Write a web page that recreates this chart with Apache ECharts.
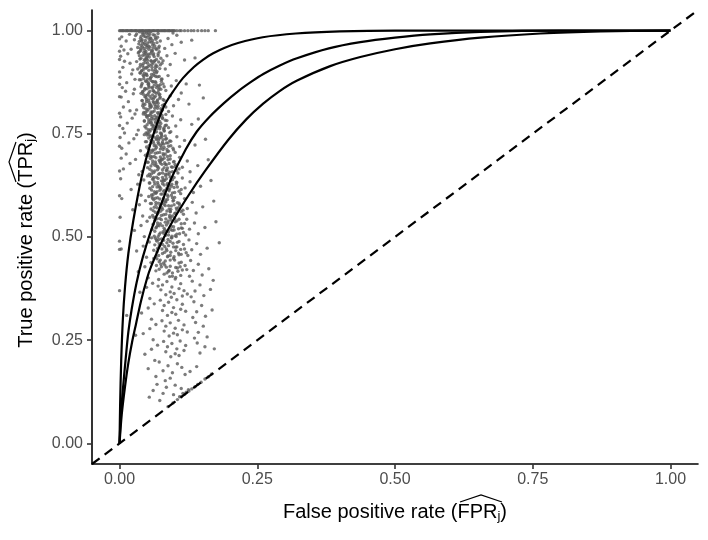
<!DOCTYPE html>
<html>
<head>
<meta charset="utf-8">
<script src="https://cdn.jsdelivr.net/npm/echarts@6/dist/echarts.min.js"></script>
<style>
  html, body { margin: 0; padding: 0; background: #fff; }
  #chart { width: 708px; height: 540px; }
</style>
</head>
<body>
<div id="chart"></div>
<script>
// tick positions shared by both axes
const ticks = [0, 0.25, 0.5, 0.75, 1]

// fitted ROC curves (FPR, TPR)
const rocA = [[0, 0], [0.001, 0.09], [0.003, 0.2], [0.006, 0.3], [0.01, 0.38], [0.016, 0.46], [0.025, 0.54],
  [0.04, 0.645], [0.057, 0.73], [0.08, 0.815], [0.1, 0.858], [0.115, 0.885], [0.135, 0.912], [0.152, 0.93],
  [0.17, 0.945], [0.19, 0.958], [0.215, 0.97], [0.26, 0.984], [0.32, 0.993], [0.4, 0.998], [0.5, 1], [1, 1]]
const rocB = [[0, 0], [0.002, 0.06], [0.0045, 0.106], [0.008, 0.16], [0.011, 0.203], [0.016, 0.27], [0.022, 0.325],
  [0.031, 0.39], [0.042, 0.45], [0.057, 0.515], [0.074, 0.574], [0.094, 0.642], [0.12, 0.712], [0.14, 0.755],
  [0.164, 0.792], [0.19, 0.825], [0.215, 0.853], [0.24, 0.877], [0.261, 0.895], [0.29, 0.915], [0.322, 0.933],
  [0.38, 0.957], [0.437, 0.972], [0.5, 0.983], [0.564, 0.991], [0.655, 0.997], [0.8, 1], [1, 1]]
const rocC = [[0, 0], [0.004, 0.07], [0.01, 0.138], [0.016, 0.195], [0.0227, 0.245], [0.03, 0.29], [0.039, 0.345],
  [0.05, 0.4], [0.0572, 0.428], [0.0754, 0.485], [0.0971, 0.54], [0.1262, 0.603], [0.1553, 0.66], [0.1971, 0.735],
  [0.23, 0.785], [0.2607, 0.823], [0.29, 0.853], [0.3224, 0.879], [0.3824, 0.914], [0.437, 0.936], [0.5, 0.955],
  [0.564, 0.969], [0.655, 0.983], [0.764, 0.993], [0.873, 0.998], [1, 1]]
const chance = [[-0.05, -0.05], [1.05, 1.05]]

// per-study points: row at TPR = 1
const dotsTop = [[0, 1], [.002, 1], [.004, 1], [.006, 1], [.007, 1], [.01, 1], [.012, 1], [.014, 1], [.015, 1],
  [.018, 1], [.02, 1], [.022, 1], [.023, 1], [.026, 1], [.028, 1], [.03, 1], [.031, 1], [.034, 1], [.036, 1],
  [.038, 1], [.04, 1], [.042, 1], [.043, 1], [.046, 1], [.048, 1], [.05, 1], [.052, 1], [.054, 1], [.055, 1],
  [.058, 1], [.06, 1], [.062, 1], [.063, 1], [.066, 1], [.068, 1], [.07, 1], [.071, 1], [.074, 1], [.076, 1],
  [.078, 1], [.08, 1], [.082, 1], [.083, 1], [.086, 1], [.088, 1], [.09, 1], [.091, 1], [.094, 1], [.096, 1],
  [.098, 1], [.1, 1], [.104, 1], [.109, 1], [.112, 1], [.118, 1], [.124, 1], [.13, 1], [.135, 1], [.142, 1],
  [.149, 1], [.155, 1], [.161, 1], [.174, 1]]

// points at FPR = 0
const dotsZero = [[0, .98], [0, .95], [0, .93], [0, .9], [0, .87], [0, .84], [0, .8], [0, .77], [0, .72],
  [0, .66], [0, .6], [0, .49], [0, .47], [0, .37], [.013, .31]]

// main cloud
const dotsCloud = [
  [.031,.992],[.044,.987],[.052,.995],[.038,.981],[.061,.990],[.047,.976],[.035,.968],[.058,.972],[.069,.984],[.042,.961],
  [.053,.955],[.027,.978],[.064,.963],[.049,.993],[.039,.953],[.071,.958],[.056,.982],[.033,.959],[.045,.970],[.060,.951],
  [.074,.975],[.029,.988],[.050,.964],[.041,.994],[.066,.979],[.036,.974],[.055,.960],[.047,.985],[.062,.969],[.038,.957],
  [.004,.985],[.003,.962],[.012,.975],[.018,.991],[.088,.981],[.095,.966],[.082,.957],[.104,.989],[.112,.972],[.021,.955],
  [.097,.994],[.131,.977],[.008,.953],
  [.034,.946],[.046,.941],[.058,.948],[.039,.933],[.051,.928],[.063,.937],[.043,.920],[.070,.944],[.055,.916],[.031,.925],
  [.048,.909],[.061,.922],[.037,.912],[.067,.930],[.053,.904],[.044,.947],[.074,.917],[.040,.903],[.059,.911],[.049,.935],
  [.065,.906],[.036,.939],[.057,.927],[.072,.949],[.042,.915],[.052,.943],[.063,.901],[.047,.923],[.033,.907],[.068,.913],
  [.002,.938],[.006,.911],[.015,.944],[.019,.921],[.024,.905],[.086,.939],[.092,.918],[.101,.945],[.083,.907],[.118,.929],
  [.009,.926],[.137,.934],[.079,.927],
  [.038,.897],[.050,.891],[.062,.895],[.044,.884],[.057,.879],[.069,.888],[.041,.872],[.053,.866],[.066,.874],[.047,.859],
  [.060,.863],[.074,.869],[.036,.881],[.055,.853],[.071,.857],[.043,.892],[.064,.851],[.049,.877],[.058,.888],[.039,.864],
  [.076,.882],[.052,.870],[.045,.856],[.067,.898],[.061,.876],[.048,.893],[.072,.861],[.056,.884],[.042,.852],[.063,.868],
  [.001,.887],[.005,.862],[.013,.874],[.022,.895],[.027,.858],[.088,.891],[.094,.866],[.103,.879],[.084,.855],[.121,.871],
  [.011,.853],[.028,.882],[.145,.868],
  [.043,.846],[.055,.841],[.067,.848],[.049,.833],[.061,.828],[.073,.836],[.046,.821],[.058,.816],[.070,.824],[.052,.809],
  [.064,.812],[.078,.819],[.041,.830],[.060,.803],[.076,.806],[.048,.843],[.069,.801],[.054,.826],[.063,.838],[.044,.813],
  [.081,.831],[.057,.820],[.050,.805],[.072,.844],[.066,.817],[.053,.849],[.075,.811],[.061,.834],[.047,.802],[.068,.829],
  [.003,.839],[.007,.815],[.016,.828],[.025,.847],[.031,.808],[.092,.842],[.098,.818],[.107,.833],[.089,.804],[.126,.822],
  [.019,.806],[.152,.837],[.112,.849],
  [.047,.797],[.059,.792],[.071,.798],[.053,.784],[.065,.779],[.078,.787],[.050,.772],[.062,.767],[.075,.775],[.056,.760],
  [.068,.763],[.083,.770],[.045,.781],[.064,.754],[.081,.757],[.052,.794],[.074,.752],[.058,.777],[.067,.789],[.048,.764],
  [.086,.782],[.061,.771],[.055,.756],[.077,.795],[.070,.768],[.057,.799],[.080,.762],[.066,.785],[.051,.753],[.073,.780],
  [.002,.791],[.006,.763],[.014,.776],[.023,.788],[.034,.759],[.096,.793],[.102,.769],[.111,.784],[.093,.755],[.131,.773],
  [.009,.752],[.143,.786],[.028,.798],
  [.050,.747],[.063,.742],[.076,.748],[.057,.734],[.070,.729],[.084,.737],[.054,.722],[.067,.717],[.080,.725],[.061,.710],
  [.074,.713],[.089,.720],[.049,.731],[.069,.704],[.087,.707],[.056,.744],[.079,.702],[.062,.727],[.072,.739],[.052,.714],
  [.093,.732],[.066,.721],[.059,.706],[.083,.745],[.076,.718],[.098,.711],[.085,.728],[.071,.735],[.055,.703],[.078,.730],
  [.001,.741],[.004,.715],[.017,.728],[.026,.738],[.038,.709],[.104,.743],[.109,.719],[.118,.734],[.101,.705],[.137,.723],
  [.012,.701],[.156,.737],[.031,.748],
  [.053,.697],[.066,.692],[.080,.698],[.060,.684],[.074,.679],[.088,.687],[.057,.672],[.071,.667],[.085,.675],[.064,.660],
  [.078,.663],[.094,.670],[.052,.681],[.073,.654],[.091,.657],[.059,.694],[.083,.652],[.066,.677],[.076,.689],[.055,.664],
  [.098,.682],[.069,.671],[.062,.656],[.087,.695],[.081,.668],[.103,.661],[.090,.678],[.075,.685],[.058,.653],[.082,.680],
  [.003,.691],[.007,.665],[.019,.678],[.029,.688],[.041,.659],[.109,.693],[.114,.669],[.123,.684],[.106,.655],[.142,.673],
  [.035,.651],[.161,.687],[.128,.658],
  [.056,.647],[.070,.642],[.084,.648],[.063,.634],[.078,.629],[.093,.637],[.060,.622],[.075,.617],[.090,.625],[.068,.610],
  [.082,.613],[.099,.620],[.055,.631],[.077,.604],[.096,.607],[.062,.644],[.087,.602],[.070,.627],[.080,.639],[.058,.614],
  [.104,.632],[.073,.621],[.066,.606],[.092,.645],[.086,.618],[.108,.611],[.095,.628],[.079,.635],[.061,.603],[.087,.630],
  [.002,.641],[.021,.615],[.033,.628],[.044,.638],[.114,.643],[.119,.619],[.128,.634],[.111,.605],[.147,.623],[.039,.601],
  [.166,.637],[.134,.608],
  [.059,.597],[.073,.592],[.088,.598],[.066,.584],[.081,.579],[.097,.587],[.063,.572],[.078,.567],[.094,.575],[.071,.560],
  [.086,.563],[.103,.570],[.058,.581],[.080,.554],[.100,.557],[.065,.594],[.091,.552],[.074,.577],[.084,.589],[.061,.564],
  [.108,.582],[.077,.571],[.069,.556],[.096,.595],[.090,.568],[.112,.561],[.099,.578],[.083,.585],
  [.004,.593],[.024,.566],[.036,.578],[.047,.588],[.118,.593],[.123,.569],[.132,.584],[.116,.555],[.151,.573],[.042,.551],
  [.171,.587],[.139,.558],
  [.062,.547],[.076,.542],[.091,.548],[.069,.534],[.085,.529],[.101,.537],[.066,.522],[.082,.517],[.098,.525],[.074,.510],
  [.089,.513],[.107,.520],[.061,.531],[.084,.504],[.104,.507],[.068,.544],[.095,.502],[.078,.527],[.088,.539],[.064,.514],
  [.112,.532],[.081,.521],[.072,.506],[.100,.545],[.093,.518],[.116,.511],
  [.001,.548],[.027,.516],[.039,.528],[.050,.538],[.122,.543],[.127,.519],[.136,.534],[.120,.505],[.155,.523],[.045,.501],
  [.175,.537],[.143,.508],
  [.065,.497],[.080,.492],[.095,.498],[.072,.484],[.089,.479],[.105,.487],[.069,.472],[.086,.467],[.102,.475],[.078,.460],
  [.093,.463],[.111,.470],[.064,.481],[.088,.454],[.108,.457],[.071,.494],[.099,.452],[.082,.477],[.092,.489],[.068,.464],
  [.116,.482],[.085,.471],
  [.003,.471],[.031,.466],[.043,.478],[.054,.488],[.126,.493],[.131,.469],[.140,.484],[.124,.455],[.159,.473],[.049,.451],
  [.181,.486],[.147,.458],[.121,.462],
  [.068,.447],[.083,.442],[.098,.448],[.075,.434],[.092,.429],[.108,.437],[.072,.422],[.089,.417],[.105,.425],[.081,.410],
  [.096,.413],[.114,.420],[.067,.431],[.091,.404],[.111,.407],[.074,.444],[.102,.402],[.085,.427],
  [.034,.416],[.046,.428],[.057,.438],[.129,.443],[.134,.419],[.143,.434],[.127,.405],[.162,.423],[.052,.401],[.150,.408],
  [.119,.431],
  [.071,.397],[.086,.392],[.101,.398],[.078,.384],[.095,.379],[.111,.387],[.075,.372],[.092,.367],[.108,.375],[.084,.360],
  [.099,.363],[.117,.370],[.070,.381],[.094,.354],[.114,.357],
  [.037,.366],[.049,.378],[.060,.388],[.132,.393],[.137,.369],[.146,.384],[.130,.355],[.165,.373],[.055,.351],[.153,.358],
  [.170,.395],[.123,.362],
  [.074,.347],[.089,.342],[.104,.348],[.081,.334],[.098,.329],[.114,.337],[.078,.322],[.095,.317],[.111,.325],[.087,.310],
  [.102,.313],[.120,.320],
  [.040,.316],[.052,.328],[.063,.338],[.135,.343],[.140,.319],[.149,.334],[.133,.305],[.168,.323],[.058,.301],[.156,.308],
  [.077,.297],[.092,.292],[.107,.298],[.084,.284],[.101,.279],[.117,.287],[.081,.272],[.098,.267],[.114,.275],[.090,.260],
  [.105,.263],[.123,.270],
  [.043,.266],[.055,.278],[.066,.288],[.138,.293],[.143,.269],[.152,.284],[.136,.255],[.061,.251],[.159,.258],[.029,.262],
  [.080,.247],[.095,.242],[.110,.248],[.087,.234],[.104,.229],[.120,.237],[.084,.222],[.101,.217],[.117,.225],[.093,.210],
  [.108,.213],
  [.046,.216],[.058,.228],[.069,.238],[.141,.243],[.146,.219],[.155,.234],[.064,.201],[.172,.229],
  [.072,.197],[.088,.188],[.105,.193],[.079,.176],[.096,.171],[.113,.184],[.066,.162],[.092,.158],[.119,.167],[.083,.152],
  [.052,.181],[.140,.186],[.128,.174],
  [.068,.143],[.085,.136],[.101,.141],[.061,.128],[.079,.121],[.054,.112],[.098,.118],[.073,.104],[.112,.133]
]

// the darkest part of the cloud
const dotsCore = [
  [.036,.997],[.043,.991],[.050,.984],[.057,.998],[.064,.989],[.070,.993],[.040,.975],[.047,.966],[.054,.979],[.061,.958],
  [.068,.971],[.037,.950],[.044,.957],[.051,.970],[.058,.952],[.065,.983],[.072,.962],[.039,.986],[.046,.952],[.053,.988],
  [.060,.965],[.067,.954],[.042,.969],[.055,.973],[.049,.959],
  [.035,.948],[.042,.940],[.049,.932],[.056,.944],[.063,.926],[.070,.939],[.077,.921],[.038,.918],[.045,.928],[.052,.913],
  [.059,.905],[.066,.917],[.073,.908],[.040,.902],[.047,.945],[.054,.936],[.061,.941],[.068,.901],[.075,.933],[.037,.931],
  [.044,.910],[.051,.921],[.058,.926],[.065,.912],[.071,.924],
  [.037,.898],[.044,.890],[.051,.882],[.058,.894],[.065,.876],[.072,.889],[.079,.871],[.040,.868],[.047,.878],[.054,.863],
  [.061,.855],[.068,.867],[.075,.858],[.042,.852],[.049,.895],[.056,.886],[.063,.891],[.070,.851],[.077,.883],[.039,.881],
  [.046,.860],[.053,.871],[.060,.876],[.067,.862],[.081,.864],
  [.039,.848],[.046,.840],[.053,.832],[.060,.844],[.067,.826],[.074,.839],[.081,.821],[.042,.818],[.049,.828],[.056,.813],
  [.063,.805],[.070,.817],[.077,.808],[.044,.802],[.051,.845],[.058,.836],[.065,.841],[.072,.801],[.079,.833],[.041,.831],
  [.048,.810],[.055,.821],[.062,.826],[.069,.812],[.084,.815],
  [.043,.798],[.050,.790],[.057,.782],[.064,.794],[.071,.776],[.078,.789],[.085,.771],[.046,.768],[.053,.778],[.060,.763],
  [.067,.755],[.074,.767],[.081,.758],[.048,.752],[.055,.795],[.062,.786],[.069,.791],[.076,.751],[.083,.783],[.045,.781],
  [.052,.760],[.059,.771],[.066,.776],[.073,.762],[.089,.765],
  [.045,.748],[.053,.740],[.061,.732],[.069,.744],[.077,.726],[.085,.739],[.093,.721],[.049,.718],[.057,.728],[.065,.713],
  [.073,.705],[.081,.717],[.089,.708],[.051,.702],[.059,.745],[.067,.736],[.075,.741],[.083,.701],[.091,.733],[.047,.731],
  [.055,.710],[.063,.721],[.071,.726],[.079,.712],[.097,.715],
  [.047,.698],[.056,.690],[.065,.682],[.074,.694],[.083,.676],[.092,.689],[.101,.671],[.051,.668],[.060,.678],[.069,.663],
  [.078,.655],[.087,.667],[.096,.658],[.054,.652],[.063,.695],[.072,.686],[.081,.691],[.090,.651],[.099,.683],[.050,.681],
  [.059,.660],[.068,.671],[.077,.676],[.086,.662],[.108,.665],
  [.051,.648],[.060,.640],[.069,.632],[.078,.644],[.087,.626],[.096,.639],[.105,.621],[.055,.618],[.064,.628],[.073,.613],
  [.082,.605],[.091,.617],[.100,.608],[.058,.602],[.067,.645],[.076,.636],[.085,.641],[.094,.601],[.103,.633],[.054,.631],
  [.063,.610],[.072,.621],[.081,.626],[.090,.612],[.112,.615],
  [.053,.598],[.062,.590],[.071,.582],[.080,.594],[.089,.576],[.098,.589],[.107,.571],[.057,.568],[.066,.578],[.075,.563],
  [.084,.555],[.093,.567],[.102,.558],[.060,.552],[.069,.595],[.078,.586],[.087,.591],[.096,.551],[.105,.583],[.056,.581],
  [.065,.560],[.074,.571],[.083,.576],[.092,.562],[.115,.565],
  [.055,.548],[.064,.540],[.074,.532],[.084,.544],[.094,.526],[.104,.539],[.114,.521],[.059,.518],[.069,.528],[.079,.513],
  [.089,.505],[.099,.517],[.109,.508],[.063,.502],[.073,.545],[.083,.536],[.093,.541],[.103,.501],[.118,.533],[.067,.524],
  [.058,.498],[.068,.490],[.078,.482],[.088,.494],[.098,.476],[.108,.489],[.118,.471],[.062,.468],[.072,.478],[.082,.463],
  [.092,.455],[.102,.467],[.112,.458],[.066,.452],[.076,.495],[.086,.486],
  [.062,.448],[.072,.440],[.082,.432],[.092,.444],[.102,.426],[.112,.439],[.066,.418],[.076,.428],[.086,.413],[.096,.405],
  [.106,.417],[.122,.421],
  [.041,.978],[.048,.949],[.055,.992],[.062,.944],[.046,.931],[.053,.962],[.059,.918],[.043,.905],[.066,.957],[.051,.939],
  [.057,.981],[.039,.964],[.064,.927],[.049,.911],[.045,.996],[.060,.976],
  [.045,.897],[.052,.874],[.059,.861],[.066,.889],[.073,.846],[.048,.838],[.055,.817],[.062,.853],[.069,.832],[.076,.877],
  [.050,.859],[.057,.803],[.064,.821],[.071,.866],[.078,.808],[.043,.823],
  [.049,.793],[.056,.776],[.063,.759],[.070,.782],[.077,.744],[.084,.797],[.060,.711],[.067,.739],[.074,.722],[.081,.765],
  [.088,.728],[.053,.749],[.058,.787],[.065,.703],[.072,.769],[.079,.736],[.086,.712],[.091,.753],
  [.057,.695],[.064,.674],[.071,.652],[.078,.688],[.085,.661],[.092,.697],[.099,.644],[.068,.621],[.075,.604],[.082,.637],
  [.089,.615],[.096,.669],[.103,.628],[.061,.641],[.073,.683],[.080,.611],[.087,.653],[.094,.623],[.101,.676],[.066,.607],
  [.060,.593],[.068,.571],[.076,.552],[.084,.585],[.092,.561],[.100,.596],[.108,.543],[.072,.527],[.080,.509],[.088,.534],
  [.096,.516],[.104,.566],[.112,.522],[.065,.548],[.077,.581],[.085,.514],[.093,.547],[.101,.503],[.109,.578],[.070,.501],
  [.067,.493],[.077,.471],[.087,.452],[.097,.485],[.107,.461],[.080,.437],[.090,.419],[.100,.444],[.110,.428],[.071,.455],
  [.094,.498],[.104,.476]
]

// points lying on the chance line
const dotsDiag = [[.088,.089],[.097,.098],[.105,.106],[.112,.113],[.118,.119],[.121,.124],[.126,.127],[.131,.132],
  [.137,.137],[.142,.143],[.148,.148],[.155,.156],[.161,.161],[.167,.168],[.109,.113],[.115,.121],[.125,.130]]

const dots = dotsTop.concat(dotsZero, dotsCloud, dotsCore, dotsDiag)

const font = 'Liberation Sans, Arial, sans-serif'

function axisOpt() {
  return {
    type: 'value',
    min: -0.05,
    max: 1.05,
    splitLine: { show: false },
    axisLine: { onZero: false, lineStyle: { color: '#000', width: 1.6 } },
    axisTick: { customValues: ticks, length: 5, lineStyle: { color: '#333', width: 1.6 } },
    axisLabel: {
      customValues: ticks,
      color: '#4d4d4d',
      fontSize: 16,
      fontFamily: font,
      formatter: v => v.toFixed(2)
    }
  }
}

const chart = echarts.init(document.getElementById('chart'))
const xAxis = axisOpt()
xAxis.axisLabel.margin = 8
const yAxis = axisOpt()
yAxis.axisLabel.margin = 9

const titleRich = { s: { fontSize: 13, fontFamily: font, fill: '#000', padding: [9, 0, 0, 0] } }
const curveStyle = { color: '#000', width: 2.2 }

chart.setOption({
  animation: false,
  grid: { left: 92, right: 10, top: 10, bottom: 76 },
  xAxis: xAxis,
  yAxis: yAxis,
  series: [
    {
      type: 'scatter',
      data: dots,
      symbolSize: 3.4,
      itemStyle: { color: '#5b5b5b' },
      silent: true
    },
    {
      type: 'line',
      data: chance,
      symbol: 'none',
      lineStyle: { color: '#000', width: 2.2, type: [9.5, 6.3] }
    },
    { type: 'line', data: rocA, smooth: 0.3, symbol: 'none', lineStyle: curveStyle },
    { type: 'line', data: rocB, smooth: 0.3, symbol: 'none', lineStyle: curveStyle },
    { type: 'line', data: rocC, smooth: 0.3, symbol: 'none', lineStyle: curveStyle }
  ],
  graphic: [
    {
      type: 'group',
      x: 395,
      y: 512,
      children: [
        {
          type: 'text',
          style: {
            text: 'False positive rate (FPR{s|j})',
            font: '20px ' + font,
            fill: '#000',
            align: 'center',
            verticalAlign: 'middle',
            rich: titleRich
          }
        },
        {
          type: 'polyline',
          shape: { points: [[65, -10], [86, -17], [107, -10]] },
          style: { stroke: '#000', lineWidth: 1.2, fill: null }
        }
      ]
    },
    {
      type: 'group',
      x: 26,
      y: 240,
      rotation: Math.PI / 2,
      children: [
        {
          type: 'text',
          style: {
            text: 'True positive rate (TPR{s|j})',
            font: '20px ' + font,
            fill: '#000',
            align: 'center',
            verticalAlign: 'middle',
            rich: titleRich
          }
        },
        {
          type: 'polyline',
          shape: { points: [[58, -10], [78, -17], [98, -10]] },
          style: { stroke: '#000', lineWidth: 1.2, fill: null }
        }
      ]
    }
  ]
})
</script>
</body>
</html>
